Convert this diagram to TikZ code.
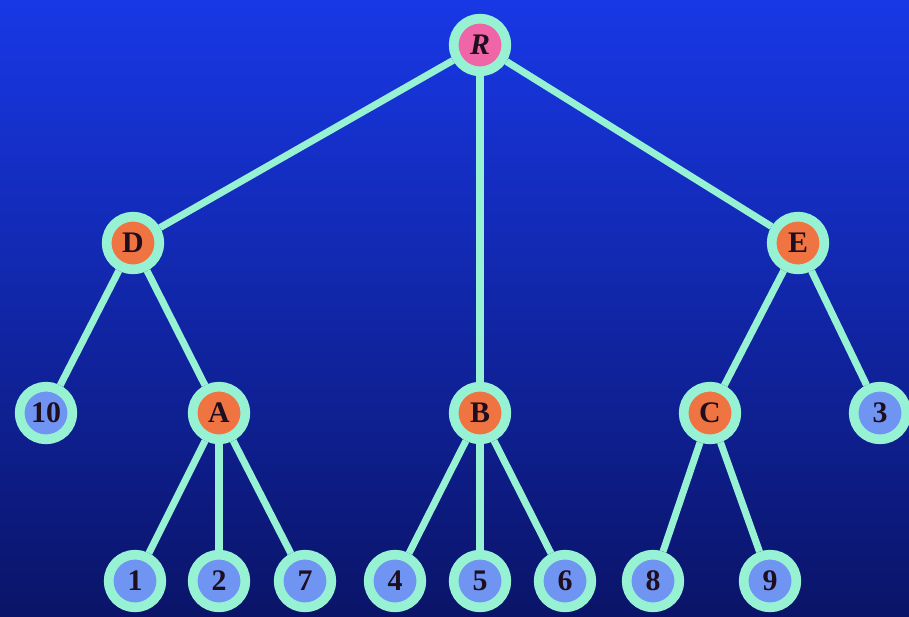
\documentclass[tikz,border=0pt]{standalone}
\usepackage{fontspec}
\setmainfont{Liberation Serif}
\usepackage{tikz}
\usetikzlibrary{calc}
\definecolor{bgtop}{HTML}{1838E6}
\definecolor{bgbot}{HTML}{0A1468}
\definecolor{rimc}{HTML}{96F2D2}
\definecolor{rootc}{HTML}{F064A8}
\definecolor{midc}{HTML}{F07442}
\definecolor{leafc}{HTML}{7094F2}
\definecolor{txtc}{HTML}{1E0E1E}
\tikzset{
  ed/.style={rimc,line width=4pt},
  nd/.style={circle,draw=rimc,line width=5.5pt,minimum size=30pt,inner sep=0pt,
    text=txtc,font=\fontsize{17}{17}\selectfont\bfseries},
  ndR/.style={nd,fill=rootc,font=\fontsize{17}{17}\selectfont\bfseries\itshape},
  ndM/.style={nd,fill=midc},
  ndL/.style={nd,fill=leafc}
}
\begin{document}
\begin{tikzpicture}[x=0.02cm,y=-0.02cm]
\shade[top color=bgtop,bottom color=bgbot] (0,0) rectangle (909,616);
\useasboundingbox (0,0) rectangle (909,616);
% levels
\node[ndR] (r) at (480,45) {R};
\node[ndM] (d) at (133,243) {D};
\node[ndM] (e) at (798,243) {E};
\node[ndL] (l10) at (46,413) {10};
\node[ndM] (a) at (219,413) {A};
\node[ndM] (b) at (480,413) {B};
\node[ndM] (c) at (710,413) {C};
\node[ndL] (l3) at (880,413) {3};
\foreach \n/\x in {1/135,2/219,7/305,4/395,5/480,6/565,8/653,9/770}
  \node[ndL] (l\n) at (\x,581) {\n};
% edges
\foreach \p/\q in {r/d,r/b,r/e,d/l10,d/a,e/c,e/l3,a/l1,a/l2,a/l7,b/l4,b/l5,b/l6,c/l8,c/l9}
  \draw[ed] (\p) -- (\q);
\end{tikzpicture}
\end{document}
